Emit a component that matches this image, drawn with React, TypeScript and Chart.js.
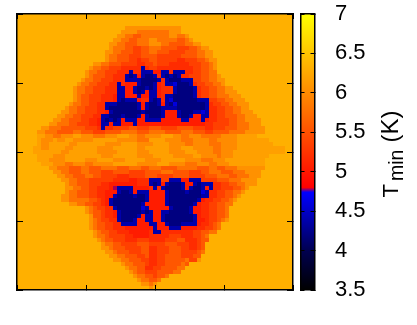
import React, { useEffect, useRef } from "react";
import { Chart, registerables } from "chart.js";

Chart.register(...registerables);

const gridSize = 69;
const axisTicks = [0, 1, 2, 3, 4];
const colorTicks = [3.5, 4, 4.5, 5, 5.5, 6, 6.5, 7];

// temperature (K) that each letter of the rows below stands for
const levels: Record<string, number> = {
  ".": 6.32, g: 6.18, h: 6.0, a: 6.05, b: 5.78, c: 5.55, d: 5.35, e: 5.18, f: 5.04, B: 4.6, N: 4.2, R: 4.38, p: 4.78,
};

// "<first column><level>": the level holds until the next token's column
const warmRows: string[] = [
  "", "", "",
  "27a 41.",
  "26a 30b 38a 41.",
  "25a 27b 29c 31b 38a 40b 42a 43.",
  "24a 26b 28c 30b 33a 35b 40c 42b 43a 44.",
  "23a 25b 27c 30b 33a 36b 38c 42b 44a 46.",
  "23a 24b 27c 29d 31c 33b 36c 40d 43c 45b 46a 48.",
  "22a 24b 26c 29d 31c 33b 35c 38d 42c 45b 47a 49.",
  "22a 23b 25c 28d 31c 35d 41c 45b 47a 49.",
  "22a 23b 25c 28d 30e 31d 33c 35d 40e 42d 45c 47b 48a 50.",
  "19a 21b 23c 26d 30e 32d 34c 35d 38e 43d 46c 48b 49a 50.",
  "18a 19b 21c 23d 26e 33d 35e 44d 46c 48b 49a 50.",
  "17a 18b 20c 22d 25e 33f 36e 44d 46c 48b 50.",
  "17a 18b 19c 22d 24e 28f 35e 43d 46c 48b 50a 51.",
  "16a 17b 19c 21d 24e 28f 36e 44d 46c 48b 50a 52.",
  "15a 16b 18c 20d 23e 27f 36e 45d 47c 49b 51a 52.",
  "14a 15b 17c 19d 22e 25f 36e 46d 48c 50b 52a 54.",
  "14a 15b 17c 19d 22e 25f 36e 46d 48c 50b 52a 55.",
  "14a 15b 16c 18d 21e 24f 36e 46d 48c 50b 53a 56.",
  "14a 15b 16c 18d 21e 24f 31e 37f 47e 48d 50c 52b 54a 57.",
  "13a 14b 16c 18d 20e 23f 47e 49d 51c 53b 55a 58.",
  "12a 13b 15c 17d 20e 23f 48e 50d 52c 54b 56a 58.",
  "11a 13b 15c 17d 20e 22f 48e 50d 52c 54b 56a 59.",
  "10a 12b 14c 16d 19e 21f 48e 50d 52c 55b 57a 60.",
  "9a 11b 13c 16d 18e 20f 48e 50d 53c 55b 57a 61.",
  "8a 10b 13c 15d 18e 20f 47e 49d 53c 55b 58a 61.",
  "6a 8b 11c 17d 20e 24d 28c 30d 33c 36d 40c 44d 47e 49d 52c 55b 58a 62.",
  "5a 7b 10c 14b 16c 19d 22c 26b 30c 33b 37c 41b 44c 47d 49c 53b 57a 62.",
  "5g 7h 9b 11h 14g 16h 19b 22h 25g 28h 30b 32h 36g 39h 41b 43h 46b 51h 55g 60.",
  "5g 6h 9g 10h 12g 14h 19g 25h 30b 33g 37h 41b 44h 48b 50h 55g 63.",
  "5g 6h 8g 13h 15g 22h 26g 30h 34g 38h 42b 44h 48b 51h 55g 64.",
  "4g 6h 8g 12h 14g 20h 24g 30h 32g 38h 41g 44h 49b 51h 55g 67.",
  "4g 11h 13g 20h 25g 30h 33g 38h 42g 45h 49b 51h 54g 67.",
  "5g 9h 12g 21h 24g 30h 34g 39h 44g 46h 50b 51h 54g 63.",
  "5g 8h 12g 17h 20g 24h 27g 32h 36g 42h 46b 49h 52g 62.",
  "6g 9h 12b 14h 17b 19h 24g 30h 35g 38h 42b 45h 48b 50h 53g 62.",
  "8a 10b 13c 16b 18c 21b 25c 28b 31c 33b 36c 40b 45c 48b 50c 52b 55a 62.",
  "9a 11b 13c 16b 18c 21d 24c 28d 32c 36b 39c 43d 46c 48b 51c 54b 57a 61.",
  "10a 12b 14c 17b 19c 21d 25e 28d 32c 35d 39c 43d 47c 50b 53c 55b 58a 61.",
  "11a 13b 15c 18d 24e 28f 30e 36d 38e 41f 43e 46d 50c 53b 56a 60.",
  "12a 13b 15c 18d 21e 23f 30e 36f 49e 51d 53c 55b 57a 60.",
  "12a 14b 16c 18d 20e 23f 33e 36f 49e 51d 54c 56b 57a 58.",
  "12a 13b 15c 18d 20e 22f 48e 50d 52c 54b 56a 57.",
  "11a 13b 15c 18d 20e 22f 48e 50d 52c 54b 55a 56.",
  "11a 13b 18c 20d 21e 22f 47e 49d 51c 53b 54a 55.",
  "13a 15b 17c 19d 21e 22f 46e 48d 50c 52b 54.",
  "17a 18b 19c 20d 22e 24f 46e 48d 50c 52b 53.",
  "17a 18b 19c 21d 22e 24f 46e 48d 50c 52b 53.",
  "18a 19c 21d 22e 24f 46e 48d 50c 52b 53.",
  "18a 19b 20c 21d 23e 25f 47e 48d 50c 51b 52a 53.",
  "18a 19b 20c 22d 24e 26f 46e 48d 49c 50b 51.",
  "18a 19b 20c 22d 24e 27f 45e 47d 49c 50b 51.",
  "19a 20b 21c 23d 25e 28f 33e 44d 46c 48b 50.",
  "19a 20b 22c 23d 27e 29f 33e 38d 41e 44d 46c 47b 48.",
  "20a 21b 22c 24d 27e 30d 33e 37d 40c 42e 45d 46c 48.",
  "21a 22b 24c 26d 30c 33d 37c 40d 43e 45d 46c 47.",
  "21a 23b 24c 27d 31c 33e 35d 38c 41d 43e 45d 46c 47.",
  "22a 24b 25c 28d 31c 33e 35d 38c 41d 45c 46b 47.",
  "23a 25b 27c 30d 32c 33e 35d 37c 41d 44c 46.",
  "24a 26b 28c 31d 33e 35d 37c 42b 43d 45a 46.",
  "26a 27b 29c 32d 33e 35d 37c 41b 42c 43.",
  "27a 28b 30c 32e 34d 36c 40b 42.",
  "28a 29b 30c 32d 35c 39b 41.",
  "29a 30b 32c 34d 35c 37b 38.",
  "30a 31b 33c 35b 36.",
  "31a 33b 34a 35.",
  "33a 34.",
];

// "<row>:<first>-<last> ...": the cold blue patches laid over the rows above
const coldRuns: string[] = [
  "13:31-31",
  "14:28-28 31-33 36-37 39-41",
  "15:27-29 31-34 36-40",
  "16:27-29 30-35 37-40 41-43",
  "17:25-25 30-34 37-39 40-43",
  "18:25-26 29-34 39-44",
  "19:25-26 29-31 33-34 39-44",
  "20:25-26 30-30 33-34 37-38 39-44",
  "21:25-28 29-29 33-35 37-38 39-47",
  "22:22-23 24-30 32-35 37-39 40-47",
  "23:22-30 32-36 37-39 40-47",
  "24:23-31 32-36 40-45 46-47",
  "25:21-25 26-30 32-36 40-43 46-47",
  "26:21-25 27-29 32-35 41-42 46-46",
  "27:21-22 24-25 29-29",
  "28:21-21",
  "41:33-35 38-40 43-45",
  "42:33-35 37-41 44-47 48-48",
  "43:25-28 34-34 36-41 43-46 48-48",
  "44:25-28 30-32 37-41 42-45 46-47",
  "45:24-32 37-45 46-47",
  "46:23-32 37-45",
  "47:23-31 37-44",
  "48:24-30 31-32 38-43",
  "49:25-30 31-33 36-43",
  "50:25-30 32-33 36-44",
  "51:25-29 32-33 36-44",
  "52:26-29 33-34 37-44",
  "53:34-34 38-40",
  "54:34-35",
];
const faintCells: [number, number][] = [[43, 24]];

const colorStops: [number, string][] = [
  [3.5, "#000000"], [4.0, "#000050"], [4.25, "#00008c"], [4.5, "#0000c8"], [4.74, "#0000ff"],
  [4.8, "#ff0000"], [7, "#ffff00"],
];

const titleParts: [string, number, number, number][] = [
  ["T", 22, 197.5, 398],
  ["min", 19.5, 181, 403],
  ["(K)", 24, 142.5, 398],
];

const hex = (s: string) => [1, 3, 5].map((i) => parseInt(s.slice(i, i + 2), 16));
function colorFor(v: number): string {
  for (let i = 1; i < colorStops.length; i++) {
    const [v1, c1] = colorStops[i];
    const [v0, c0] = colorStops[i - 1];
    if (v <= v1) {
      const t = (v - v0) / (v1 - v0);
      const a = hex(c0), b = hex(c1);
      return `rgb(${a.map((x, k) => Math.round(x + (b[k] - x) * t)).join(",")})`;
    }
  }
  return colorStops[colorStops.length - 1][1];
}

function buildGrid(): number[][] {
  const grid: number[][] = [];
  for (let r = 0; r < gridSize; r++) {
    const row = new Array(gridSize).fill(levels["."]);
    for (const tok of (warmRows[r] || "").split(" ").filter(Boolean)) {
      const col = parseInt(tok, 10);
      const lv = levels[tok.slice(String(col).length)];
      for (let c = col; c < gridSize; c++) row[c] = lv;
    }
    grid.push(row);
  }
  for (const line of coldRuns) {
    const [rs, runs] = line.split(":");
    for (const run of runs.split(" ")) {
      const [a, b] = run.split("-").map(Number);
      for (let c = a; c <= b; c++) {
        const edge = c === a || c === b;
        grid[+rs][c] = edge && b - a < 3 ? levels.B : levels.N;
      }
    }
  }
  // brighter rim where a cold cell touches a warm one
  const cold = grid.map((row) => row.map((v) => v < 4.7));
  for (let r = 1; r < gridSize - 1; r++) {
    for (let c = 1; c < gridSize - 1; c++) {
      if (cold[r][c] && (!cold[r - 1][c] || !cold[r + 1][c] || !cold[r][c - 1] || !cold[r][c + 1])) {
        grid[r][c] = levels.R;
      }
    }
  }
  for (const [r, c] of faintCells) grid[r][c] = levels.p;
  return grid;
}

const hiddenScale = (position: string, tick: number, extra: object = {}) => ({
  position,
  ...extra,
  ticks: { display: false, stepSize: axisTicks[1] - axisTicks[0] },
  grid: { drawOnChartArea: false, tickLength: tick, tickColor: "#000", tickWidth: 1, z: 1 },
  border: { display: true, color: "#000", width: 1.5, z: 1 },
  afterFit: (s: any) => {
    if (position === "top" || position === "bottom") s.height = 0;
    else s.width = 0;
  },
});

export default function App() {
  const heatRef = useRef<HTMLCanvasElement>(null);
  const barRef = useRef<HTMLCanvasElement>(null);

  useEffect(() => {
    const grid = buildGrid();
    const pts: { x: number; y: number }[] = [];
    const cols: string[] = [];
    grid.forEach((row, r) =>
      row.forEach((v, c) => {
        pts.push({ x: ((c + 0.5) / gridSize) * 4, y: 4 - ((r + 0.5) / gridSize) * 4 });
        cols.push(colorFor(v));
      })
    );
    const range = { min: 0, max: 4 };
    const heat = new Chart(heatRef.current!, {
      type: "scatter",
      data: {
        datasets: [
          {
            data: pts,
            pointStyle: "rect",
            pointRadius: 2.8285,
            pointBorderWidth: 0,
            pointBackgroundColor: cols,
          },
        ],
      },
      options: {
        responsive: false,
        animation: false,
        events: [],
        layout: { padding: { left: 17, right: 4, top: 14, bottom: 35 } },
        plugins: { legend: { display: false }, tooltip: { enabled: false } },
        scales: {
          x: hiddenScale("bottom", -5, range),
          xt: hiddenScale("top", -5, range),
          y: hiddenScale("left", -6, range),
          yr: hiddenScale("right", -6, range),
        },
      } as any,
    });

    const title = {
      id: "barTitle",
      afterDraw(chart: any) {
        const ctx = chart.ctx;
        for (const [text, size, y, x] of titleParts) {
          ctx.save();
          ctx.translate(x - 295, y);
          ctx.rotate(-Math.PI / 2);
          ctx.font = `${size}px "Liberation Sans"`;
          ctx.fillStyle = "#000";
          ctx.textAlign = "left";
          ctx.textBaseline = "alphabetic";
          ctx.fillText(text, 0, 0);
          ctx.restore();
        }
      },
    };
    const cRange = { min: 3.5, max: 7 };
    const cTick = { stepSize: 0.5 };
    const bar = new Chart(barRef.current!, {
      type: "bar",
      plugins: [title],
      data: {
        labels: ["T"],
        datasets: [
          {
            data: [[colorTicks[0], colorTicks[colorTicks.length - 1]]],
            barPercentage: 1,
            categoryPercentage: 1,
            borderWidth: 0,
            backgroundColor: (ctx: any) => {
              const s = ctx.chart.scales.y;
              if (!s) return "#000";
              const p0 = s.getPixelForValue(3.5), p1 = s.getPixelForValue(7);
              if (!Number.isFinite(p0) || !Number.isFinite(p1)) return "#000";
              const g = ctx.chart.ctx.createLinearGradient(0, p0, 0, p1);
              for (const [v, c] of colorStops) g.addColorStop((v - 3.5) / 3.5, c);
              return g;
            },
          },
        ],
      },
      options: {
        responsive: false,
        animation: false,
        events: [],
        layout: { padding: { left: 5.5, right: 0, top: 14, bottom: 35 } },
        plugins: { legend: { display: false }, tooltip: { enabled: false } },
        scales: {
          x: {
            position: "bottom",
            ticks: { display: false },
            grid: { display: false, z: 1 },
            border: { display: true, color: "#000", width: 1.5, z: 1 },
            afterFit: (s: any) => { s.height = 0; },
          },
          xt: {
            position: "top",
            type: "category",
            labels: ["T"],
            ticks: { display: false },
            grid: { display: false, z: 1 },
            border: { display: true, color: "#000", width: 1.5, z: 1 },
            afterFit: (s: any) => { s.height = 0; },
          },
          y: {
            position: "right",
            ...cRange,
            ticks: {
              ...cTick,
              padding: 24.5,
              color: "#000",
              font: { family: "Liberation Sans", size: 22 },
              callback: (v: number) => String(v),
            },
            grid: { drawOnChartArea: false, tickLength: -4, tickColor: "#000", tickWidth: 1, z: 1 },
            border: { display: true, color: "#000", width: 1.5, z: 1 },
            afterFit: (s: any) => { s.width = 102.5; s.paddingTop = 0; s.paddingBottom = 0; },
          },
          yl: {
            position: "left",
            ...cRange,
            ticks: { ...cTick, display: false },
            grid: { drawOnChartArea: false, tickLength: -4, tickColor: "#000", tickWidth: 1, z: 1 },
            border: { display: true, color: "#000", width: 1.5, z: 1 },
            afterFit: (s: any) => { s.width = 0; },
          },
        },
      } as any,
    });
    return () => {
      heat.destroy();
      bar.destroy();
    };
  }, []);

  return (
    <div style={{ position: "fixed", left: 0, top: 0, width: 417, height: 325, background: "#fff" }}>
      <canvas ref={heatRef} width={297} height={325} style={{ position: "absolute", left: 0, top: 0 }} />
      <canvas ref={barRef} width={122} height={325} style={{ position: "absolute", left: 295, top: 0 }} />
    </div>
  );
}
